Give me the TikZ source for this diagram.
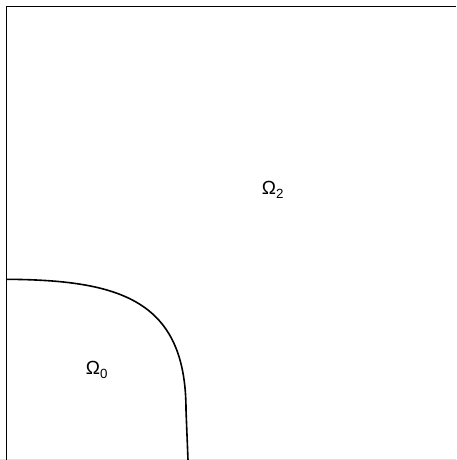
\documentclass[tikz,border=0pt]{standalone}
\usepackage{fontspec}
\setmainfont{Liberation Sans}
\begin{document}
\begin{tikzpicture}[x=1pt,y=-1pt,
  frame/.style={line width=1.8pt,black},
  bound/.style={line width=1.6pt,black},
  lbl/.style={font=\fontsize{19}{21}\selectfont, inner sep=0pt}]
\useasboundingbox (0,0) rectangle (456,460);
\fill[white] (0,0) rectangle (456,460);
\draw[gray!25,line width=0.6pt] (0,459.5) -- (456,459.5);
\coordinate (tl) at (6.5,6.5);
\coordinate (tr) at (456,6.5);
\coordinate (bl) at (6.5,460);
\draw[frame] (tr) -- (tl) -- (bl);
\coordinate (c0) at (6.5,279.3);
\coordinate (c2) at (186,410);
\coordinate (c3) at (188,460);
\draw[bound] (c0) .. controls (120,280) and (186,300) .. (c2) -- (c3);
\node[lbl] (o2) at (273,190) {Ω\textsubscript{2}};
\node[lbl] (o0) at (97,370) {Ω\textsubscript{0}};
\end{tikzpicture}
\end{document}
